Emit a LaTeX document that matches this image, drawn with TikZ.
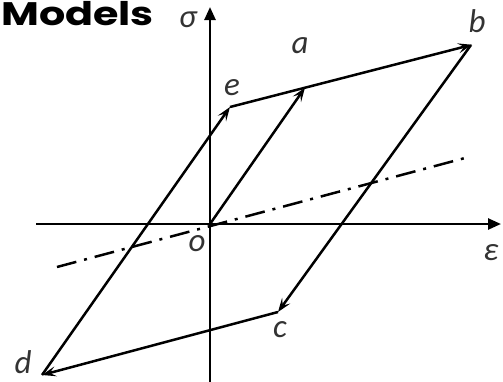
\documentclass[tikz,border=0pt]{standalone}
\usepackage{fontspec}
\setmainfont{Carlito}
\newfontfamily\titlefont{Poppins}
\usepackage{tikz}
\usetikzlibrary{arrows.meta,calc}

\begin{document}
\begin{tikzpicture}[
  x=1pt, y=-1pt,
  axis/.style={line width=2.5pt, -{Triangle[length=13pt,width=11pt]}},
  path/.style={line width=2.5pt, -{Stealth[length=14pt,width=10pt,inset=6pt]}},
  ref/.style={line width=2.5pt, dash pattern=on 20pt off 8pt on 3pt off 8pt},
  lbl/.style={anchor=base, inner sep=0pt, font=\fontsize{33}{36}\selectfont\itshape, text=black!80},
  title/.style={anchor=north west, inner sep=0pt, font=\titlefont\bfseries\fontsize{31}{34}\selectfont}
]
\useasboundingbox (0,0) rectangle (503,381);

% points of the loop
\coordinate (o) at (210,224);
\coordinate (e) at (230,107);
\coordinate (b) at (471,45);
\coordinate (c) at (278,312);
\coordinate (d) at (42,375);
\coordinate (a) at ($(e)!0.311!(b)$);

% axes
\coordinate (xl) at (36,224);
\coordinate (xr) at (501,224);
\coordinate (yb) at (210,385);
\coordinate (yt) at (210,7);
\draw[axis] (xl) -- (xr);
\draw[axis] (yb) -- (yt);

% reference line
\coordinate (rl) at (57,267);
\coordinate (rr) at (465,158);
\draw[ref] (rl) -- (rr);

% loading path
\draw[path] (o) -- (a);
\draw[path, shorten >=-1pt] (e) -- (b);
\draw[path] (b) -- (c);
\draw[path] (c) -- (d);
\draw[path] (d) -- (e);

% labels
\node[title] (head) at (1,1) {\scalebox{1.33}[1.05]{Models}};
\node[lbl] (sig) at (188,27) {σ};
\node[lbl] (eps) at (491,260) {ε};
\node[lbl] (la) at (300,53) {a};
\node[lbl] (lb) at (477,32) {b};
\node[lbl] (lc) at (280,337) {c};
\node[lbl] (ld) at (23,373) {d};
\node[lbl] (le) at (232,95) {e};
\node[lbl] (lo) at (197,251) {o};
\end{tikzpicture}
\end{document}
